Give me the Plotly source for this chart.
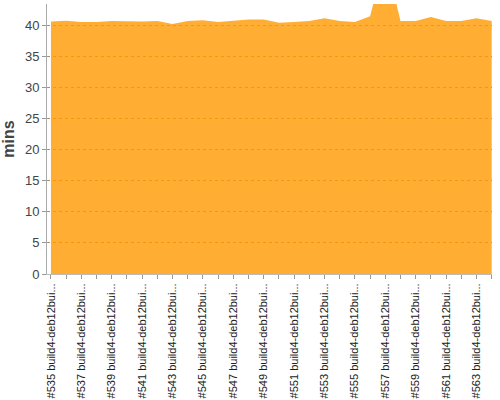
"""
Build duration area chart (minutes per build)
"""

import plotly.graph_objs as go

build_numbers = list(range(535, 565))

durations = [40.6, 40.7, 40.5, 40.5, 40.65, 40.6, 40.6, 40.65, 40.2, 40.65,
             40.8, 40.5, 40.75, 40.9, 40.9, 40.4, 40.5, 40.65, 41.1, 40.65,
             40.5, 41.45, 51.0, 40.65, 40.65, 41.3, 40.65, 40.65, 41.1, 40.65]

build_labels = [f'#{n} build4-deb12bui...' for n in build_numbers]
# only every other label is printed on the axis
tick_text = [lbl if i % 2 == 0 else '' for i, lbl in enumerate(build_labels)]

y_ticks = [0, 5, 10, 15, 20, 25, 30, 35, 40]

fig = go.Figure()

fig.add_trace(go.Scatter(x=list(range(len(durations))), y=durations,
                         mode='lines', fill='tozeroy',
                         line=dict(width=0, color='rgba(255,153,0,0.8)'),
                         fillcolor='rgba(255,153,0,0.8)',
                         hoverinfo='skip', showlegend=False))

layout = go.Layout(width=500, height=400,
                   margin=dict(l=47, r=8, t=4, b=126),
                   paper_bgcolor='white', plot_bgcolor='white',
                   font=dict(family='Liberation Sans, Arial, sans-serif', color='#444444'),
                   xaxis=dict(range=[-0.26, 29.02], automargin=False,
                              tickmode='array',
                              tickvals=list(range(len(build_labels))),
                              ticktext=tick_text,
                              tickangle=-90,
                              tickfont=dict(size=11, color='#222222'),
                              ticks='outside', ticklen=4, tickcolor='#999999',
                              showline=True, linecolor='#bbbbbb', linewidth=1,
                              showgrid=False, zeroline=False),
                   yaxis=dict(range=[0, 43.4], automargin=False,
                              tickvals=y_ticks,
                              tickfont=dict(size=13, color='#444444'),
                              ticks='outside', ticklen=4, tickcolor='#999999',
                              showline=True, linecolor='#aaaaaa', linewidth=1,
                              showgrid=True, gridcolor='#c0904f', griddash='3px,3px',
                              gridwidth=1, zeroline=False,
                              title=dict(text='mins', standoff=6,
                                         font=dict(size=16, color='#444444', weight='bold'))))

fig.update_layout(layout)

# drop the default page margin so the chart sits at the window's corner
fig.write_html("out.html", config={'displayModeBar': False},
               post_script="document.body.style.margin='0';")
